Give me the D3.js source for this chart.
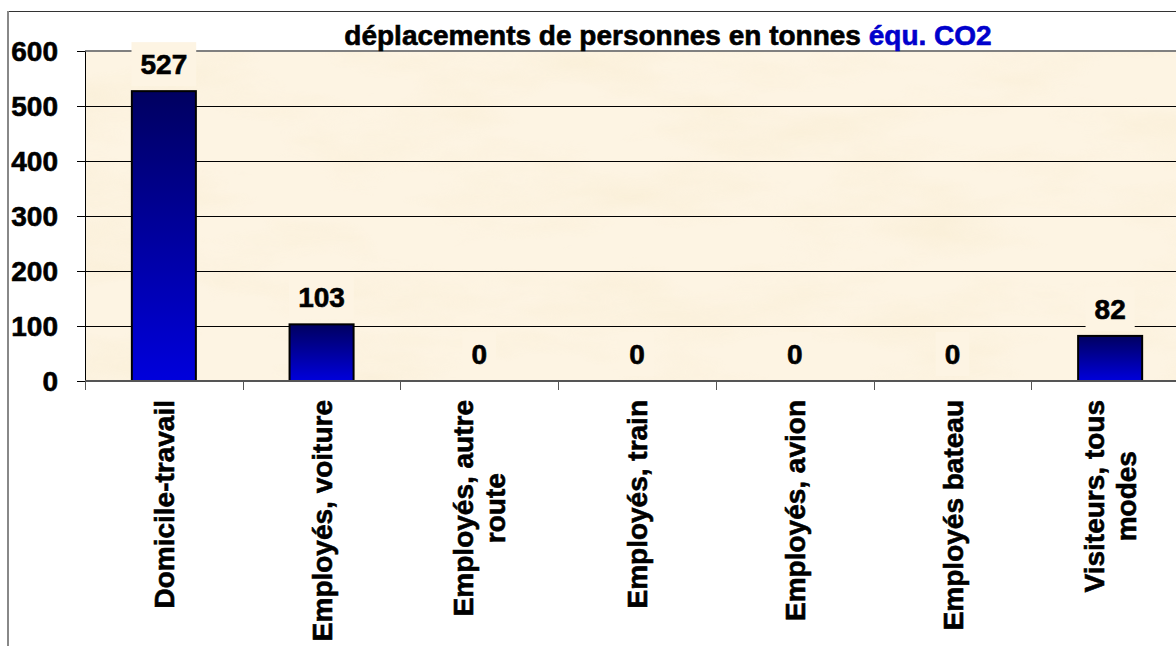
<!DOCTYPE html>
<html>
<head>
  <meta charset="utf-8">
  <script src="https://d3js.org/d3.v7.min.js"></script>
  <style>
    body { margin: 0; background: #fff; }
    text { font-family: "Liberation Sans", Arial, sans-serif; font-weight: bold; stroke-width: 0.6px; }
  </style>
</head>
<body>
<script>
  // chart data
  var categories = ["Domicile-travail", "Employés, voiture", "Employés, autre\nroute",
                    "Employés, train", "Employés, avion", "Employés bateau", "Visiteurs, tous\nmodes"];
  var values = [527, 103, 0, 0, 0, 0, 82];
  var yTicks = [0, 100, 200, 300, 400, 500, 600];
  var titleBlack = "déplacements de personnes en tonnes ";
  var titleBlue = "équ. CO2";

  var W = 1176, H = 646;
  var plot = {left: 85, top: 51, bottom: 381, right: 1189};
  var fontSize = 28;
  var bg = "#fdf4e3";

  var svg = d3.select("body").append("svg")
      .attr("width", W).attr("height", H);

  var defs = svg.append("defs");

  // bar gradient, dark navy at top to blue at bottom
  var grad = defs.append("linearGradient").attr("id", "barGrad")
      .attr("x1", 0).attr("y1", 0).attr("x2", 0).attr("y2", 1);
  grad.append("stop").attr("offset", "0%").attr("stop-color", "#000060");
  grad.append("stop").attr("offset", "100%").attr("stop-color", "#0000dc");

  // parchment texture
  var filt = defs.append("filter").attr("id", "paper")
      .attr("x", 0).attr("y", 0).attr("width", 1).attr("height", 1);
  filt.append("feTurbulence").attr("type", "fractalNoise")
      .attr("baseFrequency", "0.006 0.018").attr("numOctaves", 4).attr("seed", 7);
  filt.append("feColorMatrix").attr("type", "matrix")
      .attr("values", "0 0 0 0 0.94  0 0 0 0 0.84  0 0 0 0 0.64  2.2 0 0 0 -0.95");

  // outer chart border
  svg.append("line").attr("x1", 8).attr("x2", W).attr("y1", 11.5).attr("y2", 11.5)
      .attr("stroke", "#333").attr("stroke-width", 1);
  svg.append("line").attr("x1", 8).attr("x2", 8).attr("y1", 11).attr("y2", H)
      .attr("stroke", "#888").attr("stroke-width", 2);

  var x = d3.scaleBand()
      .domain(categories)
      .range([plot.left, plot.right])
      .paddingInner(0.594)
      .paddingOuter(0.297);

  var y = d3.scaleLinear()
      .domain([0, 600])
      .range([plot.bottom, plot.top]);

  // plot area background
  svg.append("rect")
      .attr("x", plot.left).attr("y", plot.top)
      .attr("width", plot.right - plot.left).attr("height", plot.bottom - plot.top)
      .attr("fill", bg);
  svg.append("rect")
      .attr("x", plot.left).attr("y", plot.top)
      .attr("width", plot.right - plot.left).attr("height", plot.bottom - plot.top)
      .attr("filter", "url(#paper)")
      .attr("opacity", 0.6);

  // gridlines
  svg.selectAll("line.grid")
      .data(yTicks.filter(function (d) { return d > 0 && d < 600; }))
      .enter().append("line")
      .attr("class", "grid")
      .attr("x1", plot.left).attr("x2", plot.right)
      .attr("y1", function (d) { return Math.round(y(d)) + 0.5; })
      .attr("y2", function (d) { return Math.round(y(d)) + 0.5; })
      .attr("stroke", "#000").attr("stroke-width", 1);

  // top border of plot
  svg.append("line")
      .attr("x1", plot.left).attr("x2", plot.right)
      .attr("y1", plot.top).attr("y2", plot.top)
      .attr("stroke", "#808080").attr("stroke-width", 2);

  // bars
  svg.selectAll("rect.bar")
      .data(values)
      .enter().append("rect")
      .attr("class", "bar")
      .attr("x", function (d, i) { return x(categories[i]); })
      .attr("y", function (d) { return y(d); })
      .attr("width", x.bandwidth())
      .attr("height", function (d) { return y(0) - y(d); })
      .attr("fill", "url(#barGrad)")
      .attr("stroke", "#000")
      .attr("stroke-width", 2)
      .style("display", function (d) { return d > 0 ? null : "none"; });

  // y axis
  var yAxis = d3.axisLeft(y)
      .tickValues(yTicks)
      .tickSize(8)
      .tickSizeOuter(0)
      .tickPadding(19);
  var gy = svg.append("g")
      .attr("transform", "translate(" + plot.left + ",0)")
      .call(yAxis);
  gy.select(".domain").attr("stroke", "#000");
  gy.selectAll(".tick line").attr("stroke", "#000");
  gy.selectAll(".tick text")
      .attr("fill", "#000")
      .attr("stroke", "#000")
      .style("font-size", fontSize + "px")
      .attr("dy", "0.34em");

  // x axis: line and ticks at category boundaries
  svg.append("line")
      .attr("x1", plot.left).attr("x2", plot.right)
      .attr("y1", plot.bottom).attr("y2", plot.bottom)
      .attr("stroke", "#555").attr("stroke-width", 2);
  var half = (x.step() - x.bandwidth()) / 2;
  svg.selectAll("line.xtick")
      .data(categories)
      .enter().append("line")
      .attr("class", "xtick")
      .attr("x1", function (d) { return Math.round(x(d) - half) + 0.5; })
      .attr("x2", function (d) { return Math.round(x(d) - half) + 0.5; })
      .attr("y1", plot.bottom).attr("y2", plot.bottom + 9)
      .attr("stroke", "#555").attr("stroke-width", 1);

  // category labels, rotated
  var labelTop = 400;
  var lineH = 32;
  categories.forEach(function (c) {
    var lines = c.split("\n");
    var cx = x(c) + x.bandwidth() / 2;
    var g = svg.append("g");
    var t = g.append("text")
        .style("font-size", fontSize + "px")
        .attr("text-anchor", "middle")
        .attr("fill", "#000")
        .attr("stroke", "#000");
    lines.forEach(function (l, i) {
      t.append("tspan")
          .attr("x", 0)
          .attr("y", (i - (lines.length - 1) / 2) * lineH + fontSize * 0.36)
          .text(l);
    });
    var maxW = d3.max(t.selectAll("tspan").nodes(), function (n) { return n.getComputedTextLength(); });
    t.selectAll("tspan").attr("x", -maxW / 2);
    g.attr("transform", "translate(" + cx + "," + labelTop + ") rotate(-90)");
  });

  // data labels with background box
  values.forEach(function (v, i) {
    var cx = x(categories[i]) + x.bandwidth() / 2;
    var cy = y(v) - 27;
    var g = svg.append("g");
    var box = g.append("rect").attr("fill", bg);
    var t = g.append("text")
        .attr("x", cx).attr("y", cy)
        .attr("dy", "0.35em")
        .attr("text-anchor", "middle")
        .style("font-size", fontSize + "px")
        .attr("fill", "#000")
        .attr("stroke", "#000")
        .text(v);
    var w = t.node().getComputedTextLength() + 18;
    box.attr("x", cx - w / 2).attr("y", cy - 22)
        .attr("width", w).attr("height", 44);
  });

  // title
  var title = svg.append("text")
      .attr("x", 668).attr("y", 45)
      .attr("text-anchor", "middle")
      .style("font-size", fontSize + "px");
  title.append("tspan").attr("fill", "#000").attr("stroke", "#000").text(titleBlack);
  title.append("tspan").attr("fill", "#0000cc").attr("stroke", "#0000cc").text(titleBlue);
</script>
</body>
</html>
